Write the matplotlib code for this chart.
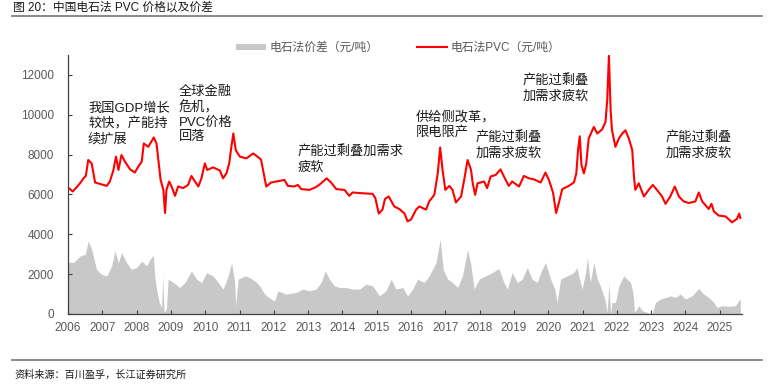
import matplotlib
matplotlib.use('Agg')
import matplotlib.pyplot as plt
from matplotlib.lines import Line2D

plt.rcParams['font.family'] = ['Liberation Sans', 'Noto Sans CJK SC', 'DejaVu Sans']

# 电石法PVC价格（元/吨），横轴为年份（小数）
pvc_t = [2006.00, 2006.14, 2006.35, 2006.45, 2006.52, 2006.59, 2006.69, 2006.79, 2006.93,
         2007.13, 2007.22, 2007.32, 2007.40, 2007.47, 2007.56, 2007.66, 2007.81, 2007.95,
         2008.05, 2008.15, 2008.21, 2008.34, 2008.50, 2008.58, 2008.63, 2008.70, 2008.78,
         2008.83, 2008.87, 2008.95, 2009.02, 2009.12, 2009.21, 2009.36, 2009.50, 2009.60,
         2009.70, 2009.80, 2009.89, 2009.99, 2010.06, 2010.23, 2010.43, 2010.52, 2010.62,
         2010.70, 2010.75, 2010.82, 2010.89, 2011.01, 2011.20, 2011.40, 2011.59, 2011.63,
         2011.78, 2011.92, 2012.17, 2012.31, 2012.41, 2012.60, 2012.70, 2012.80, 2013.04,
         2013.23, 2013.38, 2013.54, 2013.67, 2013.82, 2014.06, 2014.20, 2014.30, 2014.50,
         2014.88, 2014.96, 2015.06, 2015.17, 2015.24, 2015.35, 2015.51, 2015.66, 2015.81,
         2015.90, 2016.00, 2016.15, 2016.24, 2016.44, 2016.53, 2016.68, 2016.78, 2016.85,
         2016.92, 2017.00, 2017.12, 2017.21, 2017.31, 2017.46, 2017.55, 2017.65, 2017.75,
         2017.80, 2017.87, 2017.94, 2018.13, 2018.22, 2018.32, 2018.47, 2018.61, 2018.71,
         2018.85, 2018.95, 2019.15, 2019.29, 2019.44, 2019.58, 2019.78, 2019.92, 2020.02,
         2020.14, 2020.23, 2020.31, 2020.41, 2020.60, 2020.75, 2020.82, 2020.87, 2020.92,
         2020.97, 2021.04, 2021.11, 2021.18, 2021.33, 2021.43, 2021.57, 2021.67, 2021.72,
         2021.77, 2021.82, 2021.86, 2021.96, 2022.06, 2022.16, 2022.25, 2022.35, 2022.45,
         2022.50, 2022.54, 2022.64, 2022.79, 2022.93, 2023.05, 2023.17, 2023.32, 2023.42,
         2023.56, 2023.69, 2023.81, 2023.95, 2024.10, 2024.29, 2024.39, 2024.49, 2024.68,
         2024.76, 2024.83, 2024.97, 2025.17, 2025.36, 2025.50, 2025.57, 2025.60]
pvc = [6350, 6150, 6560, 6810, 6930, 7730, 7560, 6600, 6530,
       6430, 6650, 7200, 7900, 7230, 7980, 7650, 7260, 7100,
       7400, 7650, 8560, 8390, 8860, 8560, 7810, 6730, 6230,
       5070, 6230, 6650, 6400, 5930, 6400, 6320, 6480, 6930,
       6650, 6400, 6810, 7560, 7230, 7360, 7200, 6810, 7060,
       7560, 8230, 9060, 8230, 7900, 7810, 8060, 7810, 7730,
       6400, 6600, 6680, 6730, 6430, 6400, 6480, 6270, 6230,
       6370, 6560, 6810, 6600, 6270, 6230, 5930, 6100, 6070,
       6030, 5820, 5040, 5240, 5770, 5900, 5400, 5270, 5040,
       4650, 4740, 5240, 5400, 5240, 5650, 5980, 7060, 8360,
       7230, 6230, 6430, 6230, 5600, 5900, 6730, 7730, 7230,
       6560, 5980, 6560, 6650, 6320, 6900, 6980, 7260, 6900,
       6430, 6650, 6400, 6930, 6810, 6760, 6600, 7100, 6730,
       6100, 5070, 5570, 6270, 6430, 6600, 7060, 8230, 8920,
       7480, 7060, 7560, 8810, 9390, 9060, 9260, 9640, 10720,
       12960, 10220, 9220, 8390, 8810, 9060, 9220, 8810, 8230,
       6900, 6230, 6560, 5900, 6230, 6480, 6230, 5900, 5530,
       5900, 6400, 5900, 5650, 5570, 5650, 6100, 5650, 5270,
       5530, 5150, 4940, 4900, 4600, 4770, 5040, 4820]

# 电石法价差（元/吨）
spread_t = [2006.00, 2006.16, 2006.35, 2006.50, 2006.59, 2006.69, 2006.83, 2006.98, 2007.13,
            2007.27, 2007.37, 2007.47, 2007.56, 2007.71, 2007.85, 2008.00, 2008.15, 2008.29,
            2008.39, 2008.49, 2008.53, 2008.58, 2008.66, 2008.73, 2008.76, 2008.80, 2008.87,
            2008.92, 2009.07, 2009.26, 2009.41, 2009.60, 2009.75, 2009.89, 2010.04, 2010.23,
            2010.38, 2010.52, 2010.67, 2010.77, 2010.86, 2010.89, 2010.96, 2011.16, 2011.30,
            2011.50, 2011.59, 2011.73, 2011.92, 2012.02, 2012.12, 2012.36, 2012.65, 2012.84,
            2013.04, 2013.23, 2013.38, 2013.50, 2013.62, 2013.77, 2013.91, 2014.11, 2014.30,
            2014.50, 2014.69, 2014.88, 2015.08, 2015.27, 2015.42, 2015.56, 2015.76, 2015.90,
            2016.05, 2016.19, 2016.39, 2016.53, 2016.73, 2016.85, 2016.94, 2017.07, 2017.21,
            2017.36, 2017.50, 2017.65, 2017.75, 2017.84, 2017.99, 2018.17, 2018.37, 2018.56,
            2018.71, 2018.81, 2018.95, 2019.10, 2019.24, 2019.39, 2019.53, 2019.68, 2019.78,
            2019.92, 2020.07, 2020.19, 2020.26, 2020.36, 2020.55, 2020.75, 2020.84, 2020.89,
            2020.99, 2021.09, 2021.14, 2021.23, 2021.33, 2021.43, 2021.52, 2021.65, 2021.72,
            2021.77, 2021.82, 2021.86, 2021.96, 2022.06, 2022.20, 2022.30, 2022.40, 2022.47,
            2022.52, 2022.64, 2022.74, 2022.88, 2023.03, 2023.13, 2023.27, 2023.42, 2023.56,
            2023.71, 2023.85, 2024.00, 2024.19, 2024.39, 2024.53, 2024.68, 2024.83, 2024.92,
            2025.07, 2025.26, 2025.46, 2025.55, 2025.60]
spread = [2610, 2580, 2910, 2990, 3660, 3240, 2240, 1990, 1910,
          2410, 3160, 2580, 3070, 2580, 2240, 2330, 2660, 2410,
          2740, 2940, 1910, 1250, 580, 330, 1910, 80, 250,
          1750, 1580, 1330, 1580, 2160, 1750, 1580, 2080, 1910,
          1580, 1250, 1910, 2580, 1580, 420, 1750, 1910, 1830,
          1580, 1410, 1000, 750, 660, 1160, 1000, 1080, 1250,
          1160, 1250, 1580, 2160, 1750, 1410, 1330, 1330, 1250,
          1250, 1500, 1410, 910, 1160, 1750, 1250, 1330, 910,
          1250, 1750, 1580, 1910, 2580, 3740, 2240, 1750, 1580,
          1330, 1910, 3240, 2410, 1250, 1750, 1910, 2080, 2280,
          1580, 1250, 2080, 1580, 1750, 2330, 1750, 1580, 2080,
          2580, 1750, 1250, 580, 1750, 1910, 2080, 2330, 1910,
          1250, 2080, 2830, 1580, 2580, 1750, 1410, 750, 80,
          1580, 0, 580, 580, 1410, 1910, 1750, 1580, 1080,
          80, 420, 170, 80, 0, 580, 750, 830, 910,
          830, 1000, 750, 910, 1280, 1000, 830, 580, 330,
          420, 380, 420, 660, 750]

years = list(range(2006, 2026))

# 注释文字
notes = [
    ('我国GDP增长\n较快，产能持\n续扩展', 88, 103),
    ('全球金融\n危机，\nPVC价格\n回落', 179, 86),
    ('产能过剩叠加需求\n疲软', 298, 146),
    ('供给侧改革，\n限电限产', 416, 111),
    ('产能过剩叠\n加需求疲软', 476, 132),
    ('产能过剩叠\n加需求疲软', 523, 75),
    ('产能过剩叠\n加需求疲软', 666, 132),
]

W, H = 775, 387
fig = plt.figure(figsize=(W / 100, H / 100), dpi=100)
ax = fig.add_axes([68 / W, 1 - 314 / H, (742 - 68) / W, (314 - 55) / H])

ax.fill_between(spread_t, spread, 0, color='#C8C8C8', lw=0, label='电石法价差（元/吨）')
ax.plot(pvc_t, pvc, color='#FF0000', lw=1.5, label='电石法PVC（元/吨）')

ax.set_xlim(2006, 2025.65)
ax.set_ylim(0, 13000)
ax.set_xticks(years)
ax.set_xticklabels([str(y) for y in years])
ax.set_yticks(range(0, 13000, 2000))
ax.tick_params(axis='both', direction='in', length=3, width=0.8, colors='#404040',
               labelcolor='#595959', labelsize=8.5)
ax.tick_params(axis='x', pad=6)
ax.tick_params(axis='y', pad=10)
for s in ['top', 'right']:
    ax.spines[s].set_visible(False)
for s in ['left', 'bottom']:
    ax.spines[s].set_color('#404040')
    ax.spines[s].set_linewidth(0.9)

for txt, x, y in notes:
    fig.text(x / W, 1 - y / H, txt, fontsize=9.5, color='#1a1a1a', va='top', ha='left',
             linespacing=1.25)

leg = fig.legend(loc='center', bbox_to_anchor=(398 / W, 1 - 48 / H), ncol=2, frameon=False,
                 fontsize=8.5, handlelength=2.5, handleheight=0.45, columnspacing=3.3,
                 handletextpad=0.3)
for t in leg.get_texts():
    t.set_color('#595959')

fig.text(13 / W, 1 - 8 / H, '图 20：中国电石法 PVC 价格以及价差', fontsize=8.5, va='center',
         ha='left', color='#1a1a1a')
fig.add_artist(Line2D([12 / W, 762 / W], [1 - 15.5 / H] * 2, color='#808080', lw=1.3))
fig.add_artist(Line2D([12 / W, 762 / W], [1 - 359.5 / H] * 2, color='#808080', lw=1.3))
fig.text(14 / W, 1 - 375 / H, '资料来源：百川盈孚，长江证券研究所', fontsize=7.3, va='center',
         ha='left', color='#1a1a1a')

fig.savefig('out.png', dpi=100)
